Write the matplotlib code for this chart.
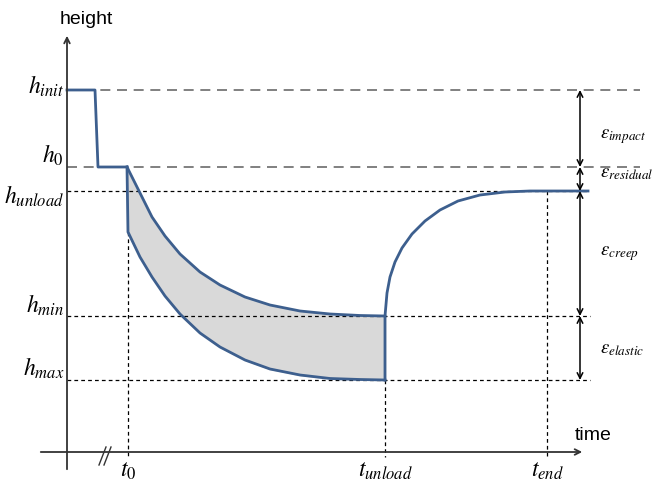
import numpy as np
import matplotlib.pyplot as plt

plt.rcParams['mathtext.fontset'] = 'stix'

# levels (pixel-like units, y grows downward)
h_levels = [90, 167, 191, 316, 380]
h_labels = [r'$h_{init}$', r'$h_{\mathit{0}}$', r'$h_{unload}$', r'$h_{min}$', r'$h_{max}$']
t_pos = [128, 385, 547]
t_labels = [r'$t_{\mathit{0}}$', r'$t_{unload}$', r'$t_{end}$']
eps_labels = [r'$\varepsilon_{impact}$', r'$\varepsilon_{residual}$',
              r'$\varepsilon_{creep}$', r'$\varepsilon_{elastic}$']

# loading step
step_x = [67, 95, 98, 127]
step_y = [90, 90, 167, 167]

# upper creep curve
up_x = [127, 140, 152, 165, 180, 200, 220, 245, 270, 300, 330, 360, 385]
up_y = [167, 193, 217, 236, 254, 272, 285, 297, 305, 311, 314, 315.5, 316]
# lower curve
lo_x = [127, 128, 140, 152, 165, 180, 200, 220, 245, 270, 300, 330, 360, 385]
lo_y = [167, 232, 257, 277, 296, 314, 333, 347, 360, 369, 375, 378.5, 379.5, 380]
# recovery after unloading
rec_x = [385, 385, 387, 390, 395, 402, 412, 425, 440, 458, 480, 505, 530, 588]
rec_y = [380, 316, 293, 277, 262, 248, 234, 221, 210, 201, 195, 192, 191, 191]

fig = plt.figure(figsize=(6.63, 4.82), dpi=100)
ax = fig.add_axes([0, 0, 1, 1])
ax.set_xlim(0, 663)
ax.set_ylim(482, 0)
ax.axis('off')

blue = '#3d5f8e'
# fill between curves
xs = np.array(up_x, dtype=float)
lo_interp = np.interp(xs, lo_x[1:], lo_y[1:])
ax.fill_between(xs, up_y, lo_interp, color='#d9d9d9', zorder=1)
ax.fill_between([127, 128], [167, 167], [167, 232], color='#d9d9d9', zorder=1)

# dashed guide lines
gray = '#6b6b6b'
ax.plot([67, 640], [h_levels[0]] * 2, color=gray, ls=(0, (6, 4)), lw=1.2, zorder=2)
ax.plot([67, 640], [h_levels[1]] * 2, color=gray, ls=(0, (6, 4)), lw=1.2, zorder=2)
for h, xe in zip(h_levels[2:], [588, 590, 590]):
    ax.plot([67, xe], [h, h], color='black', ls=(0, (3, 2.5)), lw=0.9, zorder=2)
for t, ys in zip(t_pos, [232, 380, 191]):
    ax.plot([t, t], [ys, 457], color='black', ls=(0, (3, 2.5)), lw=0.9, zorder=2)

# curves
ax.plot(step_x, step_y, color=blue, lw=2, zorder=3)
ax.plot(up_x, up_y, color=blue, lw=2, zorder=3)
ax.plot(lo_x, lo_y, color=blue, lw=2, zorder=3)
ax.plot(rec_x, rec_y, color=blue, lw=2, zorder=3)

# axes with arrows
ax.annotate('', xy=(67, 33), xytext=(67, 472),
            arrowprops=dict(arrowstyle='->', color='#333333', lw=1.3))
ax.annotate('', xy=(585, 452), xytext=(38, 452),
            arrowprops=dict(arrowstyle='->', color='#333333', lw=1.3))
ax.text(60, 20, 'height', fontsize=14, family='Liberation Sans', va='center', ha='left')
ax.text(575, 436, 'time', fontsize=14, family='Liberation Sans', va='center', ha='left')
# axis break marks
ax.plot([99, 106], [465, 447], color='#333333', lw=1)
ax.plot([104, 111], [465, 447], color='#333333', lw=1)

# level labels
for h, lab, dy in zip(h_levels, h_labels, [-4, -12, 5, -11, -12]):
    ax.text(64, h + dy, lab, fontsize=17, ha='right', va='center')
for t, lab in zip(t_pos, t_labels):
    ax.text(t, 470, lab, fontsize=17, ha='center', va='center')

# strain arrows
bounds = [h_levels[0], h_levels[1], h_levels[2], h_levels[3], h_levels[4]]
for i, lab in enumerate(eps_labels):
    ax.annotate('', xy=(580, bounds[i]), xytext=(580, bounds[i + 1]),
                arrowprops=dict(arrowstyle='<->', color='black', lw=1.1,
                                shrinkA=0, shrinkB=0))
    ax.text(600, (bounds[i] + bounds[i + 1]) / 2 + (8 if i == 0 else (-6 if i == 1 else 0)),
            lab, fontsize=13.5, ha='left', va='center')

fig.savefig('out.png', dpi=100)
